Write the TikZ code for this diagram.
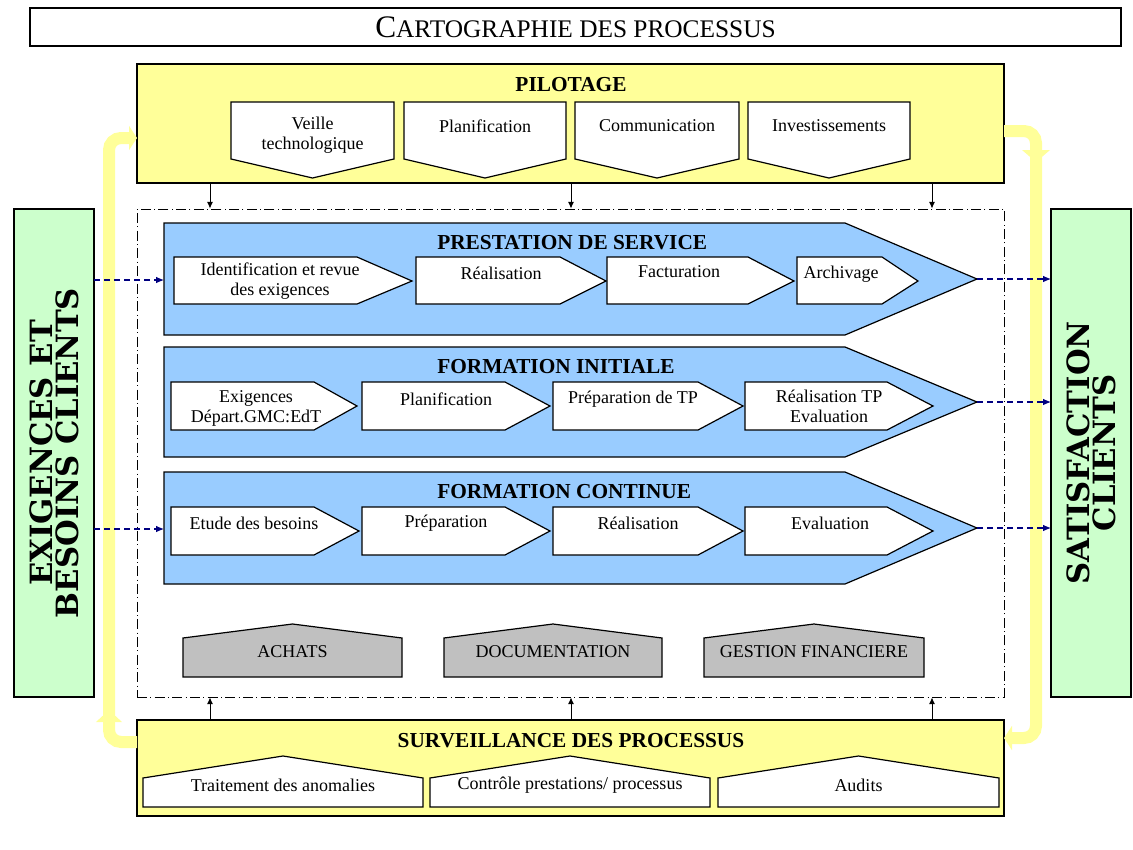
\documentclass[tikz,border=0pt]{standalone}
\usepackage{fontspec}
\setmainfont{Liberation Serif}
\newfontfamily\headfont{DejaVu Serif}
\usetikzlibrary{positioning, fit, arrows.meta, calc}
\definecolor{PaleYellow}{HTML}{FFFF99}
\definecolor{BandBlue}{HTML}{99CCFF}
\definecolor{PaleGreen}{HTML}{CCFFCC}
\definecolor{BoxGrey}{HTML}{C0C0C0}
\definecolor{FlowNavy}{HTML}{000080}
\tikzset{
	boxframe/.style={draw=black, line width=1pt, inner sep=0pt, outer sep=0pt},
	stepbox/.style={draw=black, line width=0.9pt, fill=white},
	support/.style={draw=black, line width=0.9pt, fill=BoxGrey},
	band/.style={draw=black, line width=0.9pt, fill=BandBlue},
	lbl/.style={font=\fontsize{13.5}{15}\selectfont, align=center, inner sep=0pt},
	heading/.style={font=\fontsize{16}{18}\selectfont\bfseries, inner sep=0pt},
	client/.style={rotate=90, align=center, font=\fontsize{23}{19.5}\headfont\bfseries},
	ctrl/.style={-{Latex[length=5pt,width=4.5pt]}, line width=0.75pt},
	flow/.style={-{Latex[length=6pt,width=5pt]}, FlowNavy, dash pattern=on 4.5pt off 3pt, line width=0.8pt},
	feedback/.style={PaleYellow, line width=9pt, rounded corners=9pt, -{Triangle[length=6pt,width=18pt]}},
}
\begin{document}
\begin{tikzpicture}[x=0.75pt, y=-0.75pt]
	\useasboundingbox (0,0) rectangle (1133,850);
	% title
	\node[boxframe, fit={(30,8) (1121,46)}] (carto) {};
	\node[font=\fontsize{19}{22}\selectfont, inner sep=0pt] at (carto.center) {{\fontsize{23.5}{26}\selectfont C}ARTOGRAPHIE DES PROCESSUS};
	% pilotage
	\node[boxframe, fill=PaleYellow, fit={(137,64) (1004,183)}] (pilot) {};
	\node[heading] at (571,85) {PILOTAGE};
	\foreach \n/\l/\r/\ty/\txt in {veille/231/394/135/{Veille\\technologique}, planif/404/566/126/Planification, comm/575/739/126/Communication, invest/748/910/126/Investissements}{
		\draw[stepbox] (\l,102) -- (\r,102) -- (\r,159) -- ({(\l+\r)/2},178) -- (\l,159) -- cycle;
		\node[lbl] (\n) at ({(\l+\r)/2},\ty) {\txt};
	}
	% core processes
	\node[draw, line width=0.6pt, dash pattern=on 7.5pt off 2.5pt on 0.75pt off 2.5pt, inner sep=0pt, fit={(137,209) (1004,697)}] (core) {};
	\foreach \name/\t/\b/\title in {ps/223/335/PRESTATION DE SERVICE, fi/347/457/FORMATION INITIALE, fc/472/584/FORMATION CONTINUE}{
		\pgfmathsetmacro\m{(\t+\b)/2}
		\draw[band] (164,\t) -- (845,\t) -- (977,\m) -- (845,\b) -- (164,\b) -- cycle;
		\coordinate (\name-w) at (164,\m+1);
		\coordinate (\name-e) at (977,\m);
		\node[heading, anchor=west] (\name-title) at (437,\t+19.5) {\title};
	}
	\foreach \n/\l/\f/\p/\tx/\ty/\txt in {ps1/174/357/412/280/281/{Identification et revue\\des exigences}, ps2/416/560/606/501/273/Réalisation, ps3/607/748/794/679/272/Facturation, ps4/797/882/918/841/274/Archivage}{
		\draw[stepbox] (\l,257) -- (\f,257) -- (\p,281) -- (\f,304) -- (\l,304) -- cycle;
		\node[lbl] (\n) at (\tx,\ty) {\txt};
	}
	\foreach \n/\l/\f/\p/\tx/\ty/\txt in {fi1/171/314/357/256/408/{Exigences\\Départ.GMC:EdT}, fi2/362/505/550/446/399/Planification, fi3/553/698/743/633/399/Préparation de TP, fi4/745/887/933/829/406/{Réalisation TP\\Evaluation}}{
		\draw[stepbox] (\l,382) -- (\f,382) -- (\p,406) -- (\f,430) -- (\l,430) -- cycle;
		\node[lbl] (\n) at (\tx,\ty) {\txt};
	}
	\foreach \n/\l/\f/\p/\tx/\ty/\txt in {fc1/171/314/359/254/523/Etude des besoins, fc2/362/505/550/446/523/Préparation, fc3/553/698/743/638/523/Réalisation, fc4/745/887/933/830/523/Evaluation}{
		\draw[stepbox] (\l,507) -- (\f,507) -- (\p,531) -- (\f,555) -- (\l,555) -- cycle;
		\node[lbl] (\n) at (\tx,\ty) {\txt};
	}
	% support processes
	\foreach \n/\l/\r/\txt in {achats/183/402/ACHATS, doc/444/662/DOCUMENTATION, gestion/704/924/GESTION FINANCIERE}{
		\draw[support] (\l,677) -- (\l,638) -- ({(\l+\r)/2},624) -- (\r,638) -- (\r,677) -- cycle;
		\node[lbl] (\n) at ({(\l+\r)/2},652) {\txt};
	}
	% surveillance
	\node[boxframe, fill=PaleYellow, fit={(137,720) (1004,816)}] (surv) {};
	\node[heading] at (571,741) {SURVEILLANCE DES PROCESSUS};
	\foreach \n/\l/\r/\txt in {anomalies/143/423/Traitement des anomalies, controle/430/710/{Contrôle prestations/ processus}, audits/718/999/Audits}{
		\draw[stepbox] (\l,807) -- (\l,778) -- ({(\l+\r)/2},756) -- (\r,778) -- (\r,807) -- cycle;
		\node[lbl] (\n) at ({(\l+\r)/2},785) {\txt};
	}
	% clients
	\node[boxframe, fill=PaleGreen, fit={(14,209) (94,697)}] (exig) {};
	\node[client] at (exig.center) {EXIGENCES ET\\BESOINS CLIENTS};
	\node[boxframe, fill=PaleGreen, fit={(1051,209) (1131,697)}] (satis) {};
	\node[client] at (satis.center) {SATISFACTION\\CLIENTS};
	% feedback loops
	\draw[feedback] ([yshift=19.5pt]surv.west) -- ++(-28,0) |- ([yshift=-10.875pt]pilot.west);
	\draw[feedback] ([yshift=-5.625pt]pilot.east) -- ++(32,0) |- ([yshift=22.5pt]surv.east);
	\fill[PaleYellow] (1022,150) -- (1050,150) -- (1036,162) -- cycle;
	\fill[PaleYellow] (96,722) -- (122,722) -- (109,710) -- cycle;
	% links
	\foreach \x in {210,571,932}{
		\coordinate (k) at (\x,0);
		\draw[ctrl] (pilot.south -| k) -- (core.north -| k);
		\draw[ctrl] (surv.north -| k) -- (core.south -| k);
	}
	\foreach \name in {ps,fc}
		\draw[flow] (exig.east |- \name-w) -- (\name-w);
	\foreach \name in {ps,fi,fc}
		\draw[flow] (\name-e) -- (satis.west |- \name-e);
\end{tikzpicture}
\end{document}
